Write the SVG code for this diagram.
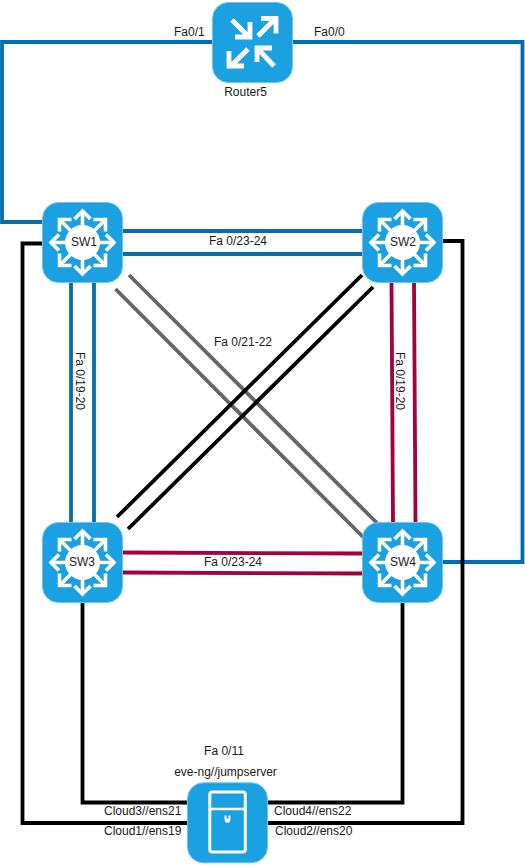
<svg xmlns="http://www.w3.org/2000/svg" xmlns:xlink="http://www.w3.org/1999/xlink" width="525" height="865" viewBox="0 0 525 865">
<style>
text{font-family:"Liberation Sans",Arial,sans-serif;font-size:12px;fill:#1a1a1a}
.m{text-anchor:middle}
.l{fill:none;stroke-width:3.8;stroke-linejoin:miter}
.b{stroke:#006eaf}.k{stroke:#000}.r{stroke:#a50040}.g{stroke:#666}
.n{fill:#1ba1e2;stroke:#6fc3ec;stroke-width:1}
.i{fill:none;stroke:#fff;stroke-width:3.6;stroke-linecap:butt;stroke-linejoin:miter}
.j{fill:none;stroke:#fff;stroke-width:4.8;stroke-linecap:butt;stroke-linejoin:miter}
</style>
<defs>
<g id="sw">
<rect class="n" x="-40" y="-40" width="80" height="80" rx="16"/>
<g class="i">
<path d="M0-31V31M-31 0H31M-23-23L23 23M23-23L-23 23"/>
<path d="M-8-23.500L0-31.500L8-23.500M-8 23.500L0 31.500L8 23.500M-23.500-8L-31.500 0L-23.500 8M23.500-8L31.500 0L23.500 8"/>
<path d="M-23-11V-23H-11M23-11V-23H11M-23 11V23H-11M23 11V23H11"/>
</g>
<circle r="17.500" fill="#fff"/>
</g>
</defs>
<g id="connectors">
<path class="l b" d="M212.500 42H2V222H42.500"/>
<path class="l b" d="M292.500 42H522.500V562H442.500"/>
<path class="l b" d="M122.500 231H367M122.500 254H367"/>
<path class="l b" d="M71 282.500V522.500M94 282.500V522.500"/>
<path class="l r" d="M391.500 282.500L393 522.500M414 282.500L415.500 522.500"/>
<path class="l r" d="M122.500 552.500L362.500 553.500M122.500 572.500L362.500 573.500"/>
<path class="l g" d="M115.500 289L363 537M129 275L377 523"/>
<path class="l k" d="M362 275L117 517M373 287L128 529"/>
<path class="l k" d="M42.500 243.500H22.500V823H187.500"/>
<path class="l k" d="M442.500 241H462.500V823H267.500"/>
<path class="l k" d="M82.500 602.500V802.500H187.500"/>
<path class="l k" d="M402.500 602.500V802.500H267.500"/>
</g>
<g id="router5">
<rect class="n" x="212.500" y="2.500" width="80" height="80" rx="16"/>
<g class="j">
<path d="M232 20L249 37M235 37H250V22"/>
<path d="M258 36L275 19M261 18.500H276V33.500"/>
<path d="M248 49L231 66M229 51V66H244"/>
<path d="M274 66L258 49M257 62V48H272"/>
</g>
<text class="m" x="245.500" y="96">Router5</text>
</g>
<g id="sw1"><use xlink:href="#sw" href="#sw" x="82.500" y="242.500"/><text class="m" x="84" y="246">SW1</text></g>
<g id="sw2"><use xlink:href="#sw" href="#sw" x="402.500" y="242.500"/><text class="m" x="403" y="246">SW2</text></g>
<g id="sw3"><use xlink:href="#sw" href="#sw" x="82.500" y="562.500"/><text class="m" x="82" y="566">SW3</text></g>
<g id="sw4"><use xlink:href="#sw" href="#sw" x="402.500" y="562.500"/><text class="m" x="403" y="566">SW4</text></g>
<g id="jumpserver">
<rect class="n" x="187.500" y="782.800" width="80" height="80" rx="16"/>
<rect x="209.800" y="792" width="35.500" height="60" rx="2.500" fill="none" stroke="#fff" stroke-width="3"/>
<path d="M209.500 809H245.500" fill="none" stroke="#fff" stroke-width="2.500"/>
<path d="M224.500 815.500C224.500 821 225 822.800 227.500 822.800C230 822.800 230.500 821 230.500 815.500L228.500 815.500V818.500H226.500V815.500Z" fill="#fff"/>
<text class="m" x="225.500" y="776">eve-ng//jumpserver</text>
</g>
<g id="labels">
<text x="174" y="36">Fa0/1</text>
<text x="314" y="36">Fa0/0</text>
<text class="m" x="238" y="245">Fa 0/23-24</text>
<text class="m" x="243" y="346">Fa 0/21-22</text>
<text class="m" x="233" y="566">Fa 0/23-24</text>
<text class="m" transform="translate(76 381) rotate(90)">Fa 0/19-20</text>
<text class="m" transform="translate(396 381) rotate(90)">Fa 0/19-20</text>
<text class="m" x="224" y="755">Fa 0/11</text>
<text x="104" y="815">Cloud3//ens21</text>
<text x="104" y="835">Cloud1//ens19</text>
<text x="274" y="815">Cloud4//ens22</text>
<text x="275" y="835">Cloud2//ens20</text>
</g>
</svg>
